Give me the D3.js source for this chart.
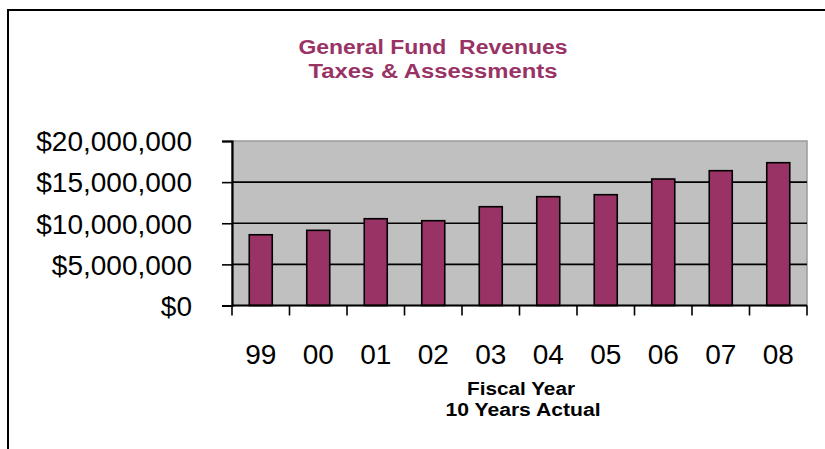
<!DOCTYPE html>
<html>
<head>
<meta charset="utf-8">
<script src="https://cdn.jsdelivr.net/npm/d3@7"></script>
<style>
  html, body { margin: 0; padding: 0; background: #fff; }
  svg { display: block; }
</style>
</head>
<body>
<svg id="chart" width="825" height="449"></svg>
<script>
// Fiscal years and General Fund revenue from taxes & assessments (dollars)
const years = ["99", "00", "01", "02", "03", "04", "05", "06", "07", "08"];
const revenues = [8600000, 9140000, 10550000, 10310000, 12010000, 13230000, 13470000, 15380000, 16390000, 17360000];
const yTicks = [0, 5000000, 10000000, 15000000, 20000000];
const titleLines = ["General Fund  Revenues", "Taxes & Assessments"];
const axisTitleLines = ["Fiscal Year", "10 Years Actual"];

const svg = d3.select("#chart");
const plot = { left: 232, right: 807, top: 141, bottom: 305.5 };

const x = d3.scaleBand().domain(years).range([plot.left, plot.right]).paddingInner(0.6).paddingOuter(0.3);
const xEdges = d3.scaleLinear().domain([0, years.length]).range([plot.left, plot.right]);
const y = d3.scaleLinear().domain([0, 20000000]).range([plot.bottom, plot.top]);
const fmt = v => "$" + d3.format(",")(v);

// outer frame
svg.append("path")
  .attr("d", "M8,449 L8,10 L825,10")
  .attr("fill", "none").attr("stroke", "#000").attr("stroke-width", 2);

// plot background
svg.append("rect")
  .attr("x", plot.left).attr("y", plot.top)
  .attr("width", plot.right - plot.left).attr("height", plot.bottom - plot.top)
  .attr("fill", "#c0c0c0").attr("stroke", "#9a9a9a").attr("stroke-width", 1.5);

// horizontal gridlines
svg.append("g").selectAll("line")
  .data(yTicks.filter(d => d > 0 && d < 20000000))
  .join("line")
  .attr("x1", plot.left).attr("x2", plot.right)
  .attr("y1", d => y(d)).attr("y2", d => y(d))
  .attr("stroke", "#000").attr("stroke-width", 1.6);

// bars
svg.append("g").selectAll("rect")
  .data(years.map((yr, i) => ({ yr, v: revenues[i] })))
  .join("rect")
  .attr("x", d => x(d.yr))
  .attr("y", d => y(d.v))
  .attr("width", x.bandwidth())
  .attr("height", d => y(0) - y(d.v))
  .attr("fill", "#993366")
  .attr("stroke", "#000").attr("stroke-width", 1.6);

// y axis
const yAxis = d3.axisLeft(y).tickValues(yTicks).tickFormat(fmt).tickSize(10).tickPadding(30);
const gy = svg.append("g").attr("transform", `translate(${plot.left},0)`).call(yAxis);
gy.select(".domain").attr("stroke", "#000").attr("stroke-width", 2.2);
gy.selectAll(".tick line").attr("stroke", "#000").attr("stroke-width", 1.6);
gy.selectAll(".tick text")
  .attr("font-family", "Arial, 'Liberation Sans', sans-serif")
  .attr("font-size", 28).attr("fill", "#000").attr("dy", "0.35em");

// x axis baseline and tick marks at category boundaries
svg.append("line")
  .attr("x1", plot.left).attr("x2", plot.right)
  .attr("y1", plot.bottom).attr("y2", plot.bottom)
  .attr("stroke", "#000").attr("stroke-width", 2.2);
svg.append("g").selectAll("line")
  .data(d3.range(years.length + 1))
  .join("line")
  .attr("x1", d => xEdges(d)).attr("x2", d => xEdges(d))
  .attr("y1", plot.bottom).attr("y2", plot.bottom + 10)
  .attr("stroke", "#000").attr("stroke-width", 1.6);

// category labels
svg.append("g").selectAll("text")
  .data(years)
  .join("text")
  .attr("x", d => x(d) + x.bandwidth() / 2)
  .attr("y", 364)
  .attr("text-anchor", "middle")
  .attr("font-family", "Arial, 'Liberation Sans', sans-serif")
  .attr("font-size", 28).attr("fill", "#000")
  .text(d => d);

// chart title
const title = svg.append("g")
  .attr("font-family", "Arial, 'Liberation Sans', sans-serif")
  .attr("font-weight", "bold").attr("font-size", 20).attr("fill", "#993366")
  .attr("text-anchor", "middle");
title.append("text").attr("x", 433).attr("y", 54)
  .attr("textLength", 269).attr("lengthAdjust", "spacingAndGlyphs")
  .attr("xml:space", "preserve").text(titleLines[0]);
title.append("text").attr("x", 433).attr("y", 78)
  .attr("textLength", 249).attr("lengthAdjust", "spacingAndGlyphs")
  .text(titleLines[1]);

// x axis title
const xt = svg.append("g")
  .attr("font-family", "Arial, 'Liberation Sans', sans-serif")
  .attr("font-weight", "bold").attr("font-size", 18).attr("fill", "#000")
  .attr("text-anchor", "middle");
xt.append("text").attr("x", 521).attr("y", 395)
  .attr("textLength", 108).attr("lengthAdjust", "spacingAndGlyphs")
  .text(axisTitleLines[0]);
xt.append("text").attr("x", 523).attr("y", 416)
  .attr("textLength", 155).attr("lengthAdjust", "spacingAndGlyphs")
  .text(axisTitleLines[1]);
</script>
</body>
</html>
